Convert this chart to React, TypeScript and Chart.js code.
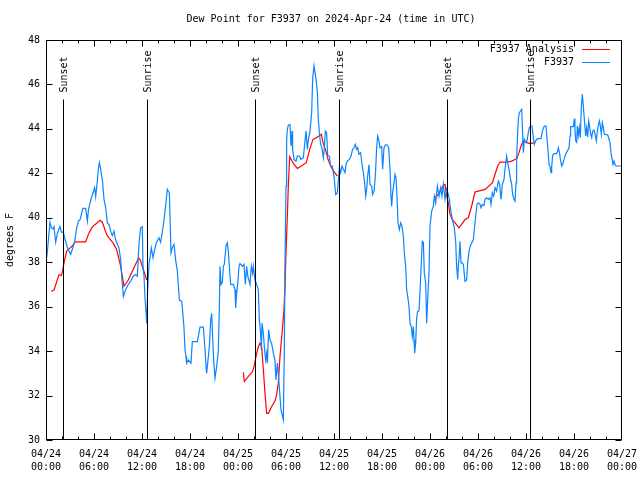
import React, { useEffect, useRef } from "react";
import { Chart, registerables } from "chart.js";

Chart.register(...registerables);

// ---------- texts ----------
const chartTitle = "Dew Point for F3937 on 2024-Apr-24 (time in UTC)";
const yAxisTitle = "degrees F";
const analysisLabel = "F3937 Analysis";
const obsLabel = "F3937";

// ---------- axes ----------
const xTickHours = [0, 6, 12, 18, 24, 30, 36, 42, 48, 54, 60, 66, 72];
const xTickDates = ["04/24", "04/24", "04/24", "04/24", "04/25", "04/25", "04/25", "04/25", "04/26", "04/26", "04/26", "04/26", "04/27"];
const xTickTimes = ["00:00", "06:00", "12:00", "18:00", "00:00", "06:00", "12:00", "18:00", "00:00", "06:00", "12:00", "18:00", "00:00"];
const yTickValues = [30, 32, 34, 36, 38, 40, 42, 44, 46, 48];

// ---------- sunrise / sunset (hours since 04/24 00:00 UTC) ----------
const sunEventHours = [2.17, 12.67, 26.17, 36.58, 50.17, 60.54];
const sunEventLabels = ["Sunset", "Sunrise", "Sunset", "Sunrise", "Sunset", "Sunrise"];

// ---------- analysis (red), null = gap ----------
const analysisHours = [
  0.67, 1.0, 1.625, 1.92, 2.04, 2.25, 2.58, 2.875, 3.29, 3.625, 4.96, 5.375, 5.79, 6.29, 6.75, 7.04,
  7.58, 7.875, 8.375, 8.83, 9.33, 9.75, 10.29, 10.92, 11.58, 11.79, 12.17, 12.58,
  18.0,
  24.67, 24.79, 25.29, 25.83, 26.0, 26.25, 26.54, 26.75, 26.96, 27.17, 27.375, 27.58, 27.79, 28.2,
  28.625, 28.83, 29.04, 29.25, 29.54, 29.75, 29.875, 30.0, 30.17, 30.29, 30.46, 31.0, 31.42, 31.92,
  32.54, 32.96, 33.375, 33.79, 34.42, 34.625, 34.92, 35.25, 35.67, 36.08, 36.42,
  42.0,
  48.625, 49.04, 49.375, 49.67, 49.875, 50.09, 50.29, 50.5, 50.79, 51.21, 51.625, 51.96, 52.375,
  52.79, 53.21, 53.625, 54.04, 54.875, 55.29, 55.79, 56.125, 56.46, 56.75, 57.58, 58.21, 58.84,
  59.125, 59.375, 59.67, 60.09, 60.5, 61.125,
];
const analysisDewpoint = [
  36.69, 36.75, 37.44, 37.4, 37.55, 37.97, 38.5, 38.6, 38.73, 38.92, 38.92, 39.32, 39.59, 39.74, 39.89, 39.8,
  39.25, 39.1, 38.87, 38.57, 37.82, 36.92, 37.2, 37.7, 38.2, 38.1, 37.67, 37.2,
  null,
  33.05, 32.63, 32.86, 33.08, 33.31, 33.76, 34.2, 34.36, 34.2, 33.16, 32.1, 31.2, 31.2, 31.5,
  31.76, 32.03, 32.56, 33.76, 34.96, 35.86, 36.92, 38.42, 40.07, 41.43, 42.75, 42.4, 42.22, 42.33,
  42.48, 43.08, 43.53, 43.6, 43.76, 43.38, 43.08, 42.63, 42.26, 42.03, 41.88,
  null,
  40.9, 41.05, 41.28, 41.46, 41.5, 41.0, 40.67, 40.15, 39.92, 39.74, 39.55, 39.7, 39.92,
  40.0, 40.53, 41.16, 41.2, 41.28, 41.4, 41.57, 41.95, 42.33, 42.51, 42.5, 42.55, 42.66,
  42.93, 43.23, 43.46, 43.38, 43.34, 43.38,
];

// ---------- observations (blue) ----------
const obsHours = [
  0.0, 0.15, 0.5, 0.67, 0.875, 1.0, 1.21, 1.42, 1.625, 1.75, 1.92, 2.17, 2.33, 2.67, 3.08, 3.29,
  3.625, 3.79, 4.04, 4.25, 4.42, 4.625, 4.96, 5.17, 5.29, 5.46, 5.67, 5.92, 6.08, 6.21, 6.42, 6.54,
  6.67, 6.83, 7.08, 7.25, 7.46, 7.67, 7.875, 8.08, 8.29, 8.5, 8.71, 9.125, 9.33, 9.46, 9.67, 9.96,
  10.29, 10.58, 10.92, 11.21, 11.42, 11.625, 11.83, 12.04, 12.125, 12.25, 12.375, 12.54, 12.58, 12.71,
  12.875, 13.17, 13.375, 13.58, 13.79, 14.125, 14.33, 14.625, 14.83, 15.0, 15.17, 15.42, 15.5, 15.625,
  15.83, 16.0, 16.2, 16.42, 16.67, 16.96, 17.08, 17.25, 17.375, 17.5, 17.58, 17.8, 18.125, 18.29,
  18.92, 19.25, 19.67, 19.875, 20.0, 20.08, 20.42, 20.58, 20.71, 20.83, 20.96, 21.125, 21.33, 21.54,
  21.67, 21.75, 21.875, 22.04, 22.17, 22.29, 22.5, 22.67, 22.79, 22.92, 23.08, 23.42, 23.625, 23.71,
  23.83, 23.96, 24.125, 24.25, 24.58, 24.75, 24.92, 25.08, 25.21, 25.5, 25.67, 25.83, 25.92, 26.125,
  26.33, 26.54, 26.67, 26.83, 26.92, 27.0, 27.17, 27.29, 27.46, 27.58, 27.67, 27.83, 28.0, 28.2,
  28.42, 28.625, 28.75, 28.92, 29.04, 29.25, 29.375, 29.67, 29.79, 29.875, 30.0, 30.08, 30.17, 30.29,
  30.5, 30.625, 30.75, 30.83, 31.0, 31.25, 31.42, 31.67, 31.875, 32.17, 32.375, 32.5, 32.67, 32.79,
  33.0, 33.21, 33.33, 33.5, 33.625, 33.75, 33.92, 34.04, 34.17, 34.33, 34.46, 34.67, 34.79, 34.92,
  35.08, 35.21, 35.42, 35.58, 35.79, 35.92, 36.04, 36.21, 36.42, 36.54, 36.67, 36.83, 37.0, 37.17,
  37.375, 37.5, 37.67, 37.92, 38.125, 38.33, 38.5, 38.67, 38.83, 38.96, 39.125, 39.33, 39.5, 39.67,
  39.83, 39.96, 40.08, 40.21, 40.375, 40.5, 40.71, 40.83, 41.0, 41.17, 41.33, 41.46, 41.58, 41.75,
  41.96, 42.08, 42.25, 42.46, 42.67, 42.83, 43.0, 43.125, 43.21, 43.33, 43.5, 43.625, 43.75, 43.875,
  44.0, 44.17, 44.33, 44.5, 44.67, 44.79, 44.96, 45.08, 45.21, 45.375, 45.5, 45.67, 45.79, 45.92,
  46.0, 46.08, 46.21, 46.33, 46.46, 46.625, 46.75, 46.875, 47.04, 47.17, 47.29, 47.46, 47.58, 47.71,
  47.875, 48.0, 48.21, 48.42, 48.54, 48.71, 48.92, 49.125, 49.33, 49.5, 49.67, 49.875, 50.08, 50.29,
  50.42, 50.58, 50.79, 51.04, 51.21, 51.33, 51.46, 51.54, 51.67, 51.75, 51.875, 52.04, 52.17, 52.375,
  52.58, 52.71, 52.875, 53.04, 53.21, 53.42, 53.54, 53.71, 53.875, 54.04, 54.25, 54.375, 54.54, 54.75,
  54.875, 55.08, 55.29, 55.5, 55.625, 55.79, 55.96, 56.125, 56.33, 56.54, 56.71, 56.875, 57.04, 57.25,
  57.375, 57.58, 57.71, 57.875, 58.04, 58.21, 58.33, 58.5, 58.625, 58.75, 58.83, 58.92, 59.04, 59.17,
  59.33, 59.46, 59.54, 59.67, 59.79, 59.96, 60.125, 60.29, 60.42, 60.58, 60.75, 60.92, 61.04, 61.21,
  61.42, 61.875, 62.04, 62.29, 62.5, 62.67, 62.79, 62.875, 63.0, 63.125, 63.21, 63.33, 63.46, 63.83,
  63.96, 64.04, 64.17, 64.29, 64.46, 64.58, 64.75, 64.96, 65.17, 65.375, 65.5, 65.58, 65.92, 66.04,
  66.12, 66.21, 66.33, 66.42, 66.54, 66.67, 66.79, 66.92, 67.04, 67.17, 67.29, 67.46, 67.58, 67.71,
  67.83, 67.96, 68.08, 68.21, 68.33, 68.5, 68.625, 68.79, 68.92, 69.04, 69.17, 69.29, 69.42, 69.54,
  69.67, 69.79, 70.21, 70.5, 70.625, 70.75, 70.875, 71.0, 71.125, 71.25, 72.0,
];
const obsDewpoint = [
  38.0, 38.4, 39.8, 39.55, 39.5, 39.6, 38.9, 39.3, 39.5, 39.6, 39.35, 39.35, 39.1, 38.66, 38.35, 38.57,
  39.0, 39.47, 39.85, 39.9, 40.15, 40.42, 40.42, 39.85, 40.3, 40.6, 40.9, 41.16, 41.36, 40.95, 41.65, 42.18,
  42.48, 42.2, 41.57, 40.83, 40.45, 39.77, 39.7, 39.4, 39.2, 39.4, 39.0, 38.64, 38.12, 37.37, 36.46, 36.77,
  37.0, 37.15, 37.37, 37.45, 37.37, 38.87, 39.55, 39.6, 37.82, 37.37, 36.39, 35.56, 35.26, 36.77,
  37.9, 38.64, 38.2, 38.57, 38.87, 39.1, 38.9, 39.55, 40.15, 40.7, 41.28, 41.1, 40.07, 38.42,
  38.7, 38.8, 38.12, 37.6, 36.3, 36.25, 35.8, 35.04, 34.06, 33.76, 33.46, 33.6, 33.46, 34.43,
  34.43, 35.08, 35.08, 34.06, 33.31, 33.0, 34.2, 35.4, 35.7, 34.6, 33.6, 32.78, 33.3, 34.0,
  36.0, 37.82, 37.0, 37.1, 37.82, 37.9, 38.73, 38.87, 38.5, 37.82, 37.0, 37.0, 36.77, 35.94,
  36.6, 37.0, 37.82, 37.94, 37.82, 37.9, 37.0, 37.82, 37.4, 37.0, 37.82, 37.5, 37.82, 37.2,
  37.0, 36.77, 35.4, 34.8, 34.06, 35.26, 34.8, 34.2, 33.6, 33.9, 33.46, 34.96, 34.5, 34.36,
  33.91, 33.6, 32.7, 33.46, 33.0, 31.95, 31.35, 30.9, 34.06, 37.97, 41.43, 43.53, 43.98, 44.16,
  44.2, 43.23, 43.9, 43.08, 42.63, 42.55, 42.78, 42.78, 42.63, 42.7, 43.46, 43.9, 43.08, 43.5,
  43.9, 44.73, 46.24, 46.84, 46.54, 46.24, 45.64, 44.43, 43.83, 43.3, 43.2, 42.7, 43.15, 43.9,
  43.83, 42.78, 42.78, 42.33, 42.33, 42.03, 41.73, 41.05, 41.12, 41.65, 42.26, 42.03, 42.33, 42.18,
  42.03, 42.4, 42.55, 42.63, 42.78, 43.08, 43.15, 43.3, 43.08, 43.15, 42.86, 42.93, 42.4, 42.03,
  41.57, 40.97, 41.28, 41.88, 42.4, 41.5, 41.42, 41.05, 41.2, 41.88, 43.15, 43.68, 43.53, 43.15,
  43.2, 42.18, 43.15, 43.3, 43.26, 43.15, 42.18, 40.97, 40.52, 41.13, 41.57, 41.95, 41.8, 40.97,
  39.77, 39.47, 39.77, 39.62, 39.17, 38.42, 37.82, 36.77, 36.46, 36.01, 35.26, 35.1, 34.66, 35.11,
  34.5, 33.91, 34.36, 35.5, 35.79, 35.8, 36.69, 37.67, 38.94, 38.9, 37.52, 37.07, 35.26, 36.31,
  37.52, 39.62, 40.3, 40.52, 40.97, 40.67, 41.43, 40.97, 41.35, 40.97, 41.5, 40.83, 41.28, 41.05,
  40.83, 40.37, 39.92, 39.55, 38.94, 37.82, 37.22, 37.82, 38.42, 38.94, 37.97, 37.97, 37.9, 37.14,
  37.2, 37.97, 38.5, 38.73, 38.87, 39.02, 39.47, 40.07, 40.6, 40.67, 40.6, 40.45, 40.6, 40.55,
  40.83, 40.9, 40.83, 40.9, 40.6, 41.13, 40.97, 41.36, 41.2, 41.65, 41.5, 40.83, 41.5, 41.73,
  42.18, 42.78, 42.48, 42.18, 41.8, 41.5, 41.05, 40.83, 40.75, 41.57, 42.63, 43.53, 44.43, 44.73,
  44.81, 44.88, 44.13, 42.93, 43.53, 43.4, 43.46, 43.83, 44.06, 44.13, 44.13, 43.6, 43.3, 43.46,
  43.56, 43.56, 43.9, 44.13, 44.13, 43.38, 42.86, 42.4, 42.3, 42.03, 42.3, 42.78, 42.89, 42.89,
  43.0, 43.15, 42.95, 42.66, 42.33, 42.4, 42.63, 42.86, 43.0, 43.15, 43.68, 44.1, 44.1, 44.46,
  44.0, 43.46, 43.4, 44.13, 43.7, 44.06, 43.6, 44.99, 45.56, 45.03, 44.43, 43.68, 44.06, 43.64,
  44.36, 44.1, 43.76, 43.6, 43.9, 43.95, 43.76, 43.46, 43.9, 44.13, 44.36, 44.13, 43.76, 44.28,
  44.06, 43.76, 43.73, 43.38, 42.93, 42.66, 42.4, 42.55, 42.4, 42.33, 42.33,
];

// ---------- styles ----------
const FONT = "'DejaVu Sans Mono', 'Liberation Mono', monospace";
const RED = "#ff0000";
const BLUE = "#0a84ff";

const decorPlugin = {
  id: "gnuplotDecor",
  afterDatasetsDraw(chart: any) {
    const { ctx, chartArea: a, scales } = chart;
    const xs = scales.x;
    const ys = scales.y;
    const L = Math.round(a.left) + 0.5;
    const R = Math.round(a.right) - 0.5;
    const T = Math.round(a.top) + 0.5;
    const B = Math.round(a.bottom) - 0.5;
    ctx.save();
    ctx.strokeStyle = "#000";
    ctx.fillStyle = "#000";
    ctx.lineWidth = 1;
    ctx.font = `10px ${FONT}`;

    // sunrise / sunset markers
    sunEventHours.forEach((h, i) => {
      const px = Math.round(xs.getPixelForValue(h)) + 0.5;
      const topY = T + 59;
      ctx.beginPath();
      ctx.moveTo(px, B);
      ctx.lineTo(px, topY);
      ctx.stroke();
      ctx.save();
      ctx.translate(px + 1, topY - 7);
      ctx.rotate(-Math.PI / 2);
      ctx.textAlign = "left";
      ctx.textBaseline = "middle";
      ctx.fillText(sunEventLabels[i], 0, 0);
      ctx.restore();
    });

    // frame
    ctx.strokeRect(L, T, R - L, B - T);

    // y ticks (inward, mirrored)
    yTickValues.forEach((v) => {
      const py = Math.round(ys.getPixelForValue(v)) + 0.5;
      ctx.beginPath();
      ctx.moveTo(L, py);
      ctx.lineTo(L + 6, py);
      ctx.moveTo(R, py);
      ctx.lineTo(R - 6, py);
      ctx.stroke();
    });

    // x ticks (major every 6 h, minor every 2 h)
    for (let h = 0; h <= 72; h += 2) {
      const px = Math.min(Math.round(xs.getPixelForValue(h)) + 0.5, R);
      const len = h % 6 === 0 ? 6 : 3;
      ctx.beginPath();
      ctx.moveTo(px, B);
      ctx.lineTo(px, B - len);
      ctx.moveTo(px, T);
      ctx.lineTo(px, T + len);
      ctx.stroke();
    }

    // title
    ctx.textAlign = "center";
    ctx.textBaseline = "middle";
    ctx.fillText(chartTitle, 331, 19);

    // y-axis title
    ctx.save();
    ctx.translate(10, (T + B) / 2);
    ctx.rotate(-Math.PI / 2);
    ctx.textAlign = "center";
    ctx.textBaseline = "middle";
    ctx.fillText(yAxisTitle, 0, 0);
    ctx.restore();

    // legend
    const rows = [
      { text: analysisLabel, color: RED, y: 49.5 },
      { text: obsLabel, color: BLUE, y: 62.5 },
    ];
    rows.forEach((r) => {
      ctx.fillStyle = "#000";
      ctx.textAlign = "right";
      ctx.textBaseline = "middle";
      ctx.fillText(r.text, 574, r.y);
      ctx.strokeStyle = r.color;
      ctx.beginPath();
      ctx.moveTo(582, r.y);
      ctx.lineTo(610, r.y);
      ctx.stroke();
    });
    ctx.restore();
  },
};

export default function App() {
  const canvasRef = useRef<HTMLCanvasElement | null>(null);

  useEffect(() => {
    document.body.style.margin = "0";
    const canvas = canvasRef.current;
    if (!canvas) return;
    const obsData = obsHours.map((h, i) => ({ x: h, y: obsDewpoint[i] }));
    const anaData = analysisHours.map((h, i) => ({ x: h, y: analysisDewpoint[i] }));

    const chart = new Chart(canvas, {
      type: "line",
      data: {
        datasets: [
          {
            label: obsLabel,
            data: obsData,
            borderColor: BLUE,
            backgroundColor: BLUE,
            borderWidth: 1.2,
            pointRadius: 0,
            tension: 0,
            fill: false,
          },
          {
            label: analysisLabel,
            data: anaData as any,
            borderColor: RED,
            backgroundColor: RED,
            borderWidth: 1.2,
            pointRadius: 0,
            tension: 0,
            fill: false,
            spanGaps: false,
          },
        ],
      },
      options: {
        responsive: false,
        animation: false,
        devicePixelRatio: 1,
        layout: { padding: { left: 0, right: 18, top: 40, bottom: 0 } },
        plugins: {
          legend: { display: false },
          title: { display: false },
          tooltip: { enabled: false },
        },
        scales: {
          x: {
            type: "linear",
            min: 0,
            max: 72,
            afterBuildTicks: (s: any) => {
              s.ticks = xTickHours.map((v) => ({ value: v }));
            },
            afterFit: (s: any) => {
              s.height = 40;
              s.paddingLeft = 0;
              s.paddingRight = 0;
            },
            grid: { display: false, drawTicks: false },
            border: { display: false },
            ticks: {
              autoSkip: false,
              maxRotation: 0,
              minRotation: 0,
              padding: 8,
              color: "#000",
              font: { family: FONT, size: 10, lineHeight: 1.3 },
              callback: (v: any) => {
                const i = xTickHours.indexOf(Number(v));
                return i >= 0 ? [xTickDates[i], xTickTimes[i]] : "";
              },
            },
          },
          y: {
            type: "linear",
            min: 30,
            max: 48,
            afterBuildTicks: (s: any) => {
              s.ticks = yTickValues.map((v) => ({ value: v }));
            },
            afterFit: (s: any) => {
              s.width = 46;
              s.paddingTop = 0;
              s.paddingBottom = 0;
            },
            grid: { display: false, drawTicks: false },
            border: { display: false },
            ticks: {
              padding: 6,
              color: "#000",
              font: { family: FONT, size: 10 },
              callback: (v: any) => String(v),
            },
          },
        },
      },
      plugins: [decorPlugin],
    });
    return () => chart.destroy();
  }, []);

  return (
    <div style={{ position: "absolute", left: 0, top: 0 }}>
      <canvas ref={canvasRef} width={640} height={480} style={{ display: "block" }} />
    </div>
  );
}
